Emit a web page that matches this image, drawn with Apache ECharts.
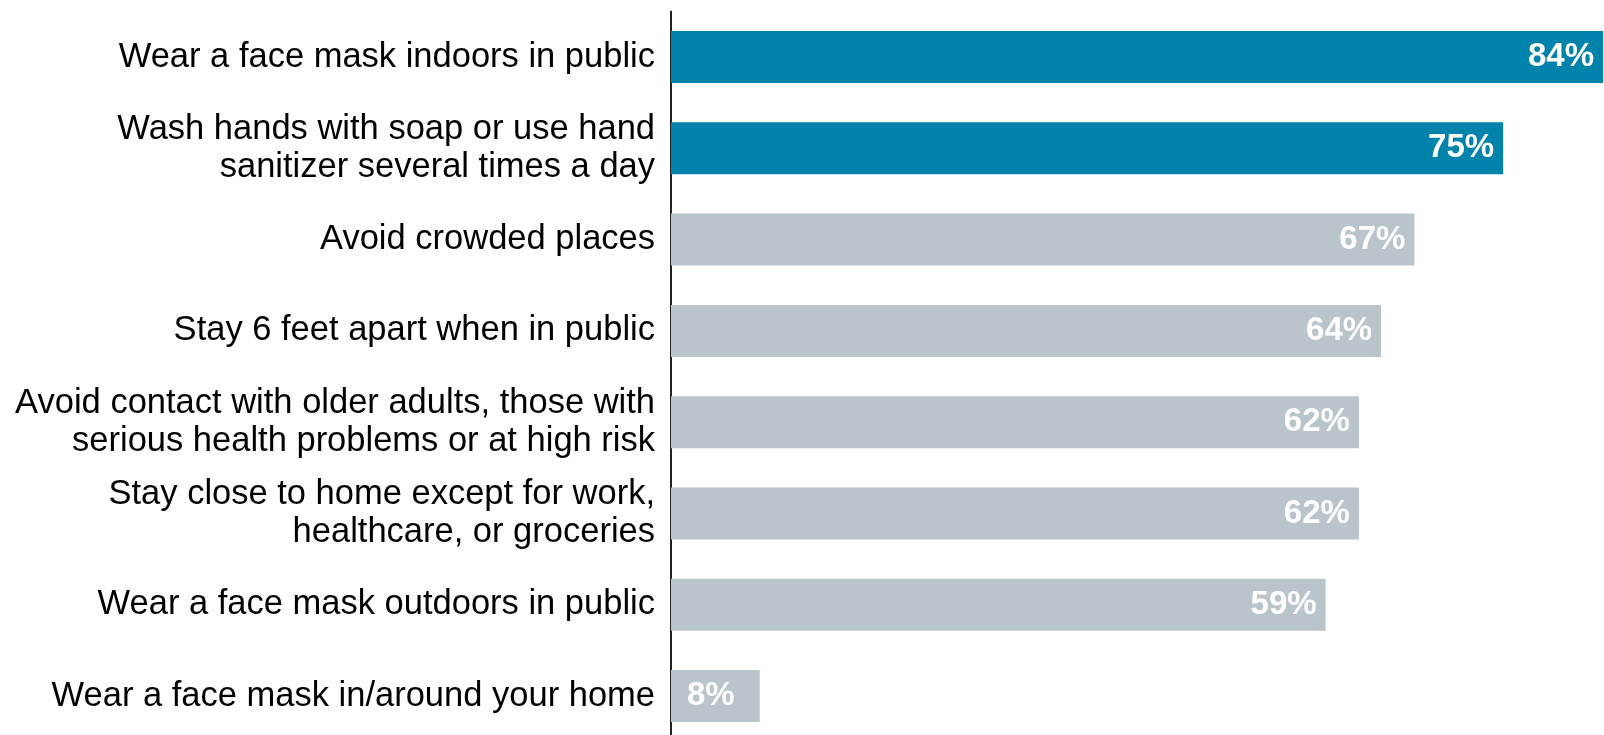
<!DOCTYPE html>
<html>
<head>
<meta charset="utf-8">
<script src="https://cdn.jsdelivr.net/npm/echarts@6/dist/echarts.min.js"></script>
<style>
  html, body { margin: 0; padding: 0; background: #ffffff; }
  #chart { width: 1604px; height: 735px; }
</style>
</head>
<body>
<div id="chart"></div>
<script>
// Protective behaviours, share of respondents (%)
const categories = [
  'Wear a face mask indoors in public',
  'Wash hands with soap or use hand\nsanitizer several times a day',
  'Avoid crowded places',
  'Stay 6 feet apart when in public',
  'Avoid contact with older adults, those with\nserious health problems or at high risk',
  'Stay close to home except for work,\nhealthcare, or groceries',
  'Wear a face mask outdoors in public',
  'Wear a face mask in/around your home'
];
const values = [84, 75, 67, 64, 62, 62, 59, 8];
// the top two behaviours are highlighted
const highlighted = [true, true, false, false, false, false, false, false];

const BLUE = '#0083AA';
const GREY = '#B9C4CB';
const FONT = '"Liberation Sans", Arial, Helvetica, sans-serif';

const chart = echarts.init(document.getElementById('chart'), null, { renderer: 'canvas' });

const seriesData = values.map((v, i) => {
  const item = {
    value: v,
    itemStyle: { color: highlighted[i] ? BLUE : GREY }
  };
  if (v < 20) {
    item.label = { position: 'insideLeft', distance: 16 };
  }
  return item;
});

chart.setOption({
  animation: false,
  backgroundColor: '#ffffff',
  grid: {
    left: 671, width: 932, top: 11.4, height: 730.3,
    containLabel: false,
    outerBoundsMode: 'none'
  },
  xAxis: {
    type: 'value',
    min: 0,
    max: 84,
    show: false
  },
  yAxis: {
    type: 'category',
    inverse: true,
    data: categories,
    axisLine: { show: true, lineStyle: { color: '#222222', width: 2 } },
    axisTick: { show: false },
    axisLabel: {
      margin: 16,
      color: '#000000',
      fontFamily: FONT,
      fontSize: 34.5,
      lineHeight: 38,
      align: 'right'
    }
  },
  series: [{
    type: 'bar',
    data: seriesData,
    barWidth: 52,
    label: {
      show: true,
      position: 'insideRight',
      distance: 9,
      color: '#ffffff',
      fontFamily: FONT,
      fontWeight: 'bold',
      fontSize: 33,
      formatter: p => p.value + '%'
    }
  }]
});
</script>
</body>
</html>
